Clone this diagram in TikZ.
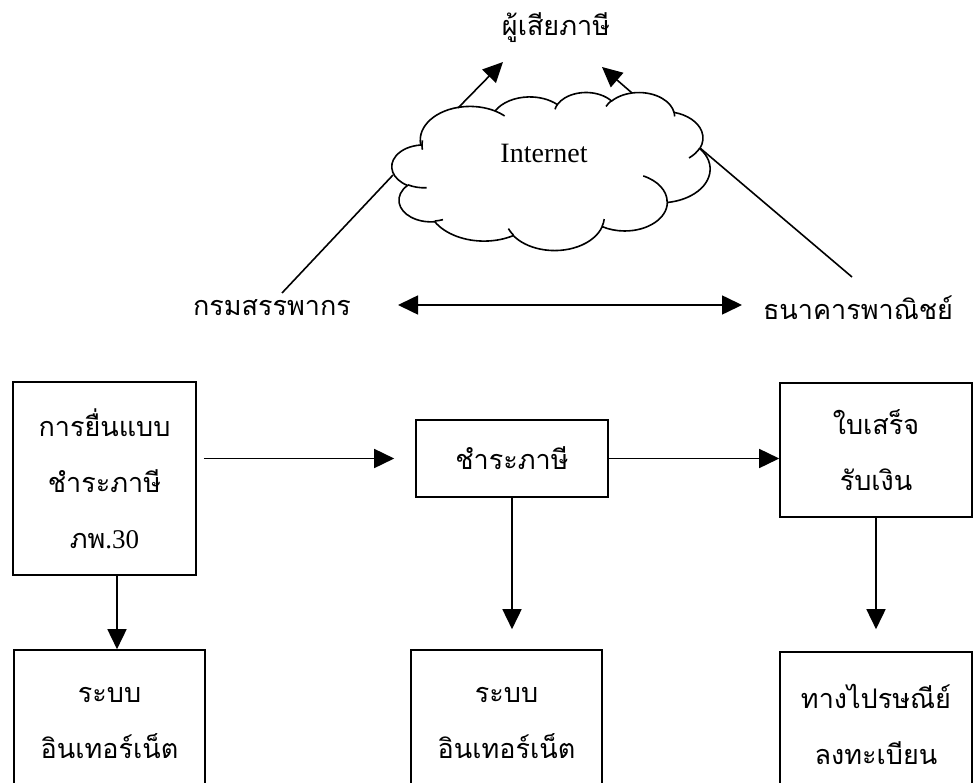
\documentclass[tikz,border=0pt]{standalone}
\usepackage{fontspec}
\setmainfont{Liberation Serif}
\newfontfamily\thaifont[Script=Thai]{Loma}
\usetikzlibrary{arrows.meta}

\tikzset{
  % elliptic arc given by a visual start angle and sweep (office-style cloud)
  declare function={pang(\pa,\pb,\pc)=atan2(\pa*sin(\pc),\pb*cos(\pc))+360*round((\pc-atan2(\pa*sin(\pc),\pb*cos(\pc)))/360);},
  cloudarc/.style n args={4}{insert path={arc[x radius=#1, y radius=#2,
      start angle={pang(#1,#2,#3)}, end angle={pang(#1,#2,#3+#4)}]}},
  stroke/.style={line width=1.6pt},
  tip/.style={-{Triangle[length=20pt,width=19pt]}},
  arr/.style={stroke, tip},
  darr/.style={stroke, {Triangle[length=20pt,width=19pt]}-{Triangle[length=20pt,width=19pt]}},
  box/.style={draw, line width=1.6pt, inner sep=0pt, align=center,
      font=\thaifont\fontsize{27}{56}\selectfont},
  lbl/.style={inner sep=0pt, font=\thaifont\fontsize{27}{30}\selectfont},
}

\begin{document}
\begin{tikzpicture}[x=1pt, y=-1pt]
\useasboundingbox (0,0) rectangle (973,783);
\clip (0,0) rectangle (973,783);

% cloud outline and its inner puff arcs
\begin{scope}[shift={(392,92)}, x=0.7361pt, y=-0.3657pt]
  \draw[stroke, fill=white] (39.00,143.70)
    [cloudarc={67.53}{91.90}{-190.4875}{123.7805}]
    [cloudarc={53.33}{72.67}{-144.1024}{89.9452}]
    [cloudarc={43.65}{59.45}{-145.8079}{99.7230}]
    [cloudarc={48.57}{65.95}{-130.9861}{117.2417}]
    [cloudarc={53.33}{72.73}{-78.7089}{109.0269}]
    [cloudarc={67.75}{92.20}{-46.2673}{130.2690}]
    [cloudarc={57.85}{78.67}{0.6250}{114.0333}]
    [cloudarc={67.52}{92.15}{22.4516}{115.1726}]
    [cloudarc={77.20}{105.43}{66.2426}{75.7110}]
    [cloudarc={43.60}{59.18}{-274.9421}{146.7356}]
    [cloudarc={43.45}{59.45}{-246.8285}{152.5189}]
    -- cycle;
  \draw[stroke]
    (46.93,261.77) [cloudarc={43.45}{59.45}{86.7420}{26.4295}]
    (69.28,348.99) [cloudarc={43.60}{59.18}{73.6105}{11.4475}]
    (164.78,390.90) [cloudarc={67.52}{92.15}{137.6242}{14.0811}]
    (288.27,347.51) [cloudarc={67.52}{92.15}{6.4533}{15.9984}]
    (341.29,229.54) [cloudarc={57.85}{78.67}{-70.2924}{70.9174}]
    (417.98,153.54) [cloudarc={53.33}{72.73}{30.3180}{27.7515}]
    (383.24,54.26) [cloudarc={48.57}{65.95}{-13.7443}{14.8589}]
    (290.78,39.52) [cloudarc={48.57}{65.95}{-149.1815}{18.1954}]
    (221.41,47.20) [cloudarc={43.65}{59.45}{-163.4943}{17.6864}]
    (140.00,51.92) [cloudarc={67.53}{91.90}{-66.7070}{12.3194}]
    (41.27,157.89) [cloudarc={67.53}{91.90}{-190.4875}{21.8104}];
\end{scope}

% labels of the upper part
\node[lbl] (payer) at (556,28) {ผู้เสียภาษี};
\node[inner sep=0pt, font=\fontsize{28}{30}\selectfont] (net) at (544,153) {Internet};
\node[lbl] (rd) at (272,308) {กรมสรรพากร};
\node[lbl] (bank) at (858,308) {ธนาคารพาณิชย์};

% end points of the upper connectors
\coordinate (cUL) at (458,108);
\coordinate (pUL) at (503,62);
\coordinate (cUR) at (632,93);
\coordinate (pUR) at (602,67);
\coordinate (cL) at (393,175);
\coordinate (rdT) at (282,293);
\coordinate (cR) at (700,148);
\coordinate (bankT) at (852,277);
\coordinate (dL) at (398,305);
\coordinate (dR) at (742,305);

\draw[arr] (cUL) -- (pUL);
\draw[arr] (cUR) -- (pUR);
\draw[stroke] (cL) -- (rdT);
\draw[stroke] (cR) -- (bankT);
\draw[darr] (dL) -- (dR);

% process boxes
\node[box, minimum width=183pt, minimum height=193pt] (b1) at (104.5,478.5) {การยื่นแบบ\\ชำระภาษี\\ภพ{\rmfamily.30}};
\node[box, minimum width=192pt, minimum height=77pt] (b2) at (512,458.5) {ชำระภาษี};
\node[box, minimum width=192pt, minimum height=134pt] (b3) at (876,450) {ใบเสร็จ\\รับเงิน};
\node[box, minimum width=191pt, minimum height=145pt] (c1) at (109.5,722.5) {ระบบ\\อินเทอร์เน็ต};
\node[box, minimum width=191pt, minimum height=145pt] (c2) at (506.5,722.5) {ระบบ\\อินเทอร์เน็ต};
\node[box, minimum width=192pt, minimum height=145pt] (c3) at (876,724.5) {ทางไปรษณีย์\\ลงทะเบียน};

% flow arrows
\draw[arr, shorten <=7pt, shorten >=21pt] (b1.east |- b2.west) -- (b2.west);
\draw[arr] (b2.east) -- (b2.east -| b3.west);
\draw[arr] ([xshift=12.5pt]b1.south) -- ([xshift=12.5pt]b1.south |- c1.north);
\draw[arr, shorten >=20pt] (b2.south) -- (b2.south |- c2.north);
\draw[arr, shorten >=22pt] (b3.south) -- (b3.south |- c3.north);
\end{tikzpicture}
\end{document}
